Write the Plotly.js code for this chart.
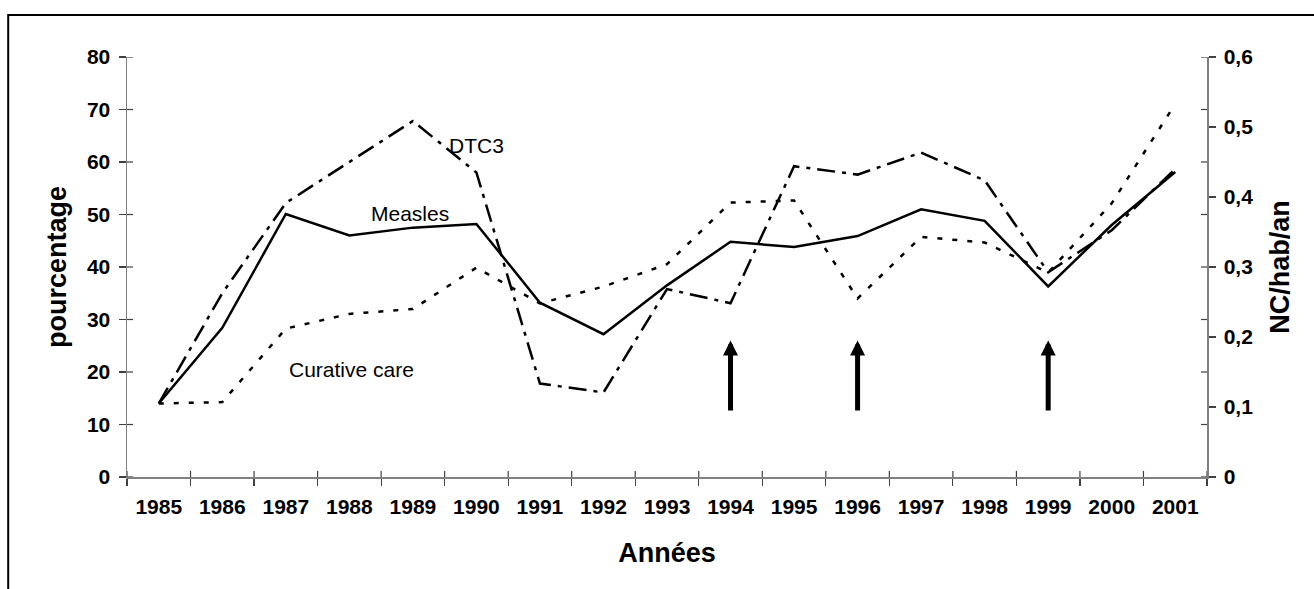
<!DOCTYPE html>
<html>
<head>
<meta charset="utf-8">
<script src="https://cdn.plot.ly/plotly-3.0.1.min.js"></script>
<style>
  html, body { margin: 0; padding: 0; background: #fff; }
  #chart { width: 1314px; height: 589px; }
</style>
</head>
<body>
<div id="chart"></div>
<script>
// years on the x axis
const years = ["1985", "1986", "1987", "1988", "1989", "1990", "1991", "1992", "1993",
               "1994", "1995", "1996", "1997", "1998", "1999", "2000", "2001"];

// vaccination coverage (%) - left axis
const measles = [14, 28.4, 50.1, 46, 47.5, 48.2, 33.2, 27.2, 36.5, 44.8, 43.8, 45.9, 51, 48.8, 36.3, 48, 58.1];
const dtc3 = [14, 35, 52.2, 60, 67.8, 58, 17.8, 16.1, 35.8, 33.1, 59.2, 57.6, 61.8, 56.5, 39, 47, 58.7];

// curative care (NC/hab/an) - right axis
const curative = [0.105, 0.107, 0.212, 0.233, 0.24, 0.299, 0.248, 0.272, 0.304, 0.392, 0.395, 0.255, 0.343, 0.335, 0.292, 0.391, 0.533];

// years marked with an arrow
const arrowYears = ["1994", "1996", "1999"];

const FONT = "Liberation Sans, Arial, sans-serif";
const TICKCOL = "#404040";

let traceMeasles = {
    x: years, y: measles, type: "scatter", mode: "lines", name: "Measles",
    line: { color: "#000", width: 2.5 }
};
let traceDtc3 = {
    x: years, y: dtc3, type: "scatter", mode: "lines", name: "DTC3",
    line: { color: "#000", width: 2.5, dash: "18px,7px,4px,7px" }
};
let traceCurative = {
    x: years, y: curative, type: "scatter", mode: "lines", name: "Curative care",
    yaxis: "y2",
    line: { color: "#000", width: 2.5, dash: "5px,10px" }
};

// arrows pointing up at selected years (category index on the x axis)
let arrows = arrowYears.map(yr => ({
    x: years.indexOf(yr), y: 26, xref: "x", yref: "y",
    ax: 0, ay: 12.4, ayref: "y",
    text: "", showarrow: true,
    arrowhead: 2, arrowsize: 0.6, arrowwidth: 5, arrowcolor: "#000"
}));

// series labels written in the plot
let labels = [
    { x: 5, y: 63.2, text: "DTC3" },
    { x: 3.95, y: 50.1, text: "Measles" },
    { x: 3.03, y: 20.5, text: "Curative care" }
].map(a => Object.assign(a, {
    xref: "x", yref: "y", showarrow: false,
    font: { family: FONT, size: 21, color: "#000" }
}));

// inner half of the ticks (the original ticks cross the axis lines)
let tickLine = { color: TICKCOL, width: 1.2 };
let boundaries = years.map((_, i) => i - 0.5).concat([years.length - 0.5]);
let innerTicks = boundaries.map(b => ({
    type: "line", xref: "x", x0: b, x1: b,
    yref: "paper", ysizemode: "pixel", yanchor: 0, y0: 0, y1: 6, line: tickLine
}));
for (let v = 0; v <= 80; v += 10) {
    innerTicks.push({
        type: "line", yref: "y", y0: v, y1: v,
        xref: "paper", xsizemode: "pixel", xanchor: 0, x0: 0, x1: 6, line: tickLine
    });
    innerTicks.push({
        type: "line", yref: "y", y0: v, y1: v,
        xref: "paper", xsizemode: "pixel", xanchor: 1, x0: -6, x1: 0, line: tickLine
    });
}

let layout = {
    width: 1314, height: 589,
    margin: { l: 127, r: 107, t: 57, b: 112 },
    paper_bgcolor: "#fff", plot_bgcolor: "#fff",
    showlegend: false,
    separators: ", ",
    font: { family: FONT, color: "#000" },
    xaxis: {
        type: "category",
        range: [-0.5, years.length - 0.5],
        tickson: "boundaries",
        ticks: "outside", ticklen: 7, tickwidth: 1.2, tickcolor: TICKCOL,
        showline: true, linecolor: "#808080", linewidth: 1.5,
        showgrid: false, zeroline: false,
        tickangle: 0, ticklabelstandoff: 10,
        tickfont: { family: FONT, size: 21, weight: "bold" },
        title: { text: "Années", font: { family: FONT, size: 27, weight: "bold" }, standoff: 26 }
    },
    yaxis: {
        range: [0, 80], dtick: 10,
        ticks: "outside", ticklen: 7, tickwidth: 1.2, tickcolor: TICKCOL,
        showline: true, linecolor: "#808080", linewidth: 1.5,
        showgrid: false, zeroline: false, ticklabelstandoff: 4,
        tickfont: { family: FONT, size: 21, weight: "bold" },
        title: { text: "pourcentage", font: { family: FONT, size: 27, weight: "bold" }, standoff: 12 }
    },
    yaxis2: {
        overlaying: "y", side: "right",
        range: [0, 0.6], dtick: 0.1,
        ticks: "outside", ticklen: 7, tickwidth: 1.2, tickcolor: TICKCOL,
        showline: true, linecolor: "#808080", linewidth: 1.5,
        showgrid: false, zeroline: false, ticklabelstandoff: 4,
        tickfont: { family: FONT, size: 21, weight: "bold" },
        title: { text: "NC/hab/an", font: { family: FONT, size: 27, weight: "bold" }, standoff: 18 }
    },
    // outer frame (runs off the right and bottom edges in the original)
    shapes: [{
        type: "rect", xref: "paper", yref: "paper",
        x0: -0.11, x1: 1.2, y0: -0.6, y1: 1.1,
        line: { color: "#000", width: 2 }
    }].concat(innerTicks),
    annotations: labels.concat(arrows)
};

Plotly.newPlot("chart", [traceMeasles, traceDtc3, traceCurative], layout, { staticPlot: true });
</script>
</body>
</html>
